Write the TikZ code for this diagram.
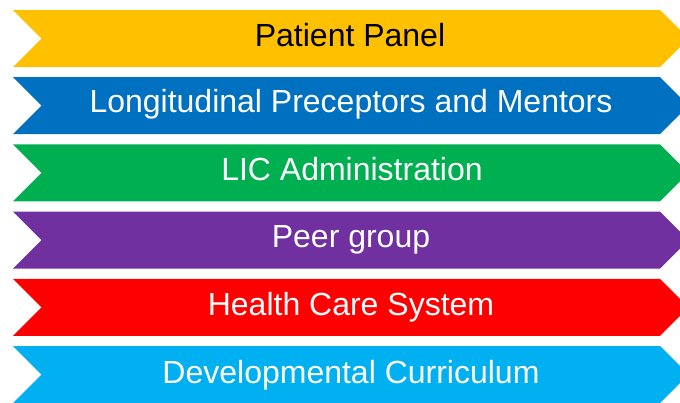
\documentclass[tikz,border=0pt]{standalone}
\usepackage{fontspec}
\setmainfont{Liberation Sans}
\definecolor{cyellow}{HTML}{FFC000}
\definecolor{cblue}{HTML}{0070C0}
\definecolor{cgreen}{HTML}{00B050}
\definecolor{cpurple}{HTML}{7030A0}
\definecolor{cred}{HTML}{FF0000}
\definecolor{clblue}{HTML}{00B0F0}
\tikzset{
  bandtext/.style={font=\fontsize{32}{36}\selectfont, inner sep=0pt, anchor=base},
}
\newcommand{\chev}[2]{%
  \fill[#2] (13,#1) -- (660,#1) -- (688.5,#1+28.5) -- (660,#1+57) -- (13,#1+57) -- (41.5,#1+28.5) -- cycle;
}
\begin{document}
\begin{tikzpicture}[x=1pt,y=-1pt]
\useasboundingbox (0,0) rectangle (680,402);
\fill[white] (0,0) rectangle (680,402);
\chev{10}{cyellow}
\chev{77.2}{cblue}
\chev{144.4}{cgreen}
\chev{211.6}{cpurple}
\chev{278.8}{cred}
\chev{346}{clblue}
\node[bandtext, text=black] (t1) at (350,46) {Patient Panel};
\node[bandtext, text=white] (t2) at (351,112.2) {Longitudinal Preceptors and Mentors};
\node[bandtext, text=white] (t3) at (352,180.4) {LIC Administration};
\node[bandtext, text=white] (t4) at (351,247.6) {Peer group};
\node[bandtext, text=white] (t5) at (351,315.8) {Health Care System};
\node[bandtext, text=white] (t6) at (351,383.5) {Developmental Curriculum};
\end{tikzpicture}
\end{document}
